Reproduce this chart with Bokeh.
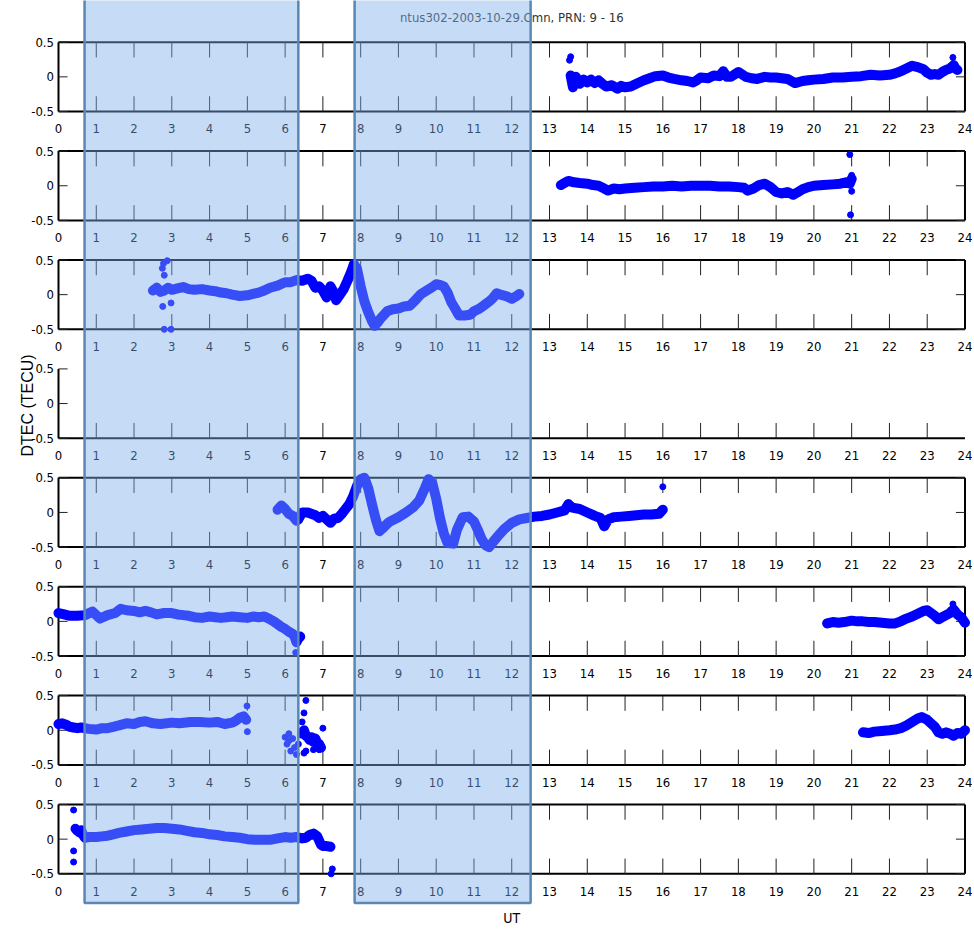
import numpy as np
from bokeh.plotting import figure
from bokeh.models import Range1d
from bokeh.core.properties import value
from bokeh.embed import file_html
from bokeh.resources import INLINE

nan = float("nan")

# ---------------- data ----------------
title_text = "ntus302-2003-10-29.Cmn, PRN: 9 - 16"
y_label = "DTEC (TECU)"
x_label = "UT"
prns = [9, 10, 11, 12, 13, 14, 15, 16]
x_ticks = list(range(0, 25))
y_ticks = [0.5, 0.0, -0.5]
y_tick_labels = ["0.5", "0", "-0.5"]
shade_starts = [0.69, 7.84]
shade_ends = [6.35, 12.5]

prn09_t = [13.56, 13.62, 13.7, 13.8, 13.9, 14.0, 14.1, 14.2, 14.3, 14.4, 14.5, 14.65, 14.8, 14.9, 15.0,
           15.15, 15.3, 15.5, 15.65, 15.8, 16.0, 16.15, 16.3, 16.5, 16.65, 16.8, 16.9, 17.0, 17.2, 17.35,
           17.5, 17.6, 17.7, 17.8, 18.0, 18.2, 18.35, 18.5, 18.7, 18.85, 19.0, 19.15, 19.3, 19.5, 19.7,
           19.85, 20.0, 20.25, 20.5, 20.75, 21.0, 21.25, 21.5, 21.75, 22.0, 22.15, 22.3, 22.45, 22.6, 22.75,
           22.9, 23.0, 23.1, 23.2, 23.3, 23.4, 23.5, 23.6, 23.7, 23.75, 23.8]
prn09_v = [0.02, -0.15, 0.0, -0.1, -0.04, -0.08, -0.04, -0.09, -0.05, -0.1, -0.14, -0.12, -0.17, -0.13, -0.15,
           -0.14, -0.1, -0.05, -0.02, 0.01, 0.02, -0.01, -0.03, -0.05, -0.06, -0.08, -0.05, -0.01, -0.02, 0.02,
           0.01, 0.08, 0.0, 0.0, 0.07, 0.0, -0.02, -0.03, 0.0, -0.01, -0.01, -0.02, -0.03, -0.09, -0.06,
           -0.05, -0.04, -0.03, -0.01, -0.01, 0.0, 0.01, 0.03, 0.02, 0.03, 0.05, 0.08, 0.12, 0.16, 0.14,
           0.11, 0.06, 0.03, 0.04, 0.03, 0.07, 0.1, 0.12, 0.17, 0.12, 0.1]
prn09_out_t = [13.53, 13.56, 23.68]
prn09_out_v = [0.24, 0.29, 0.28]

prn10_t = [13.3, 13.4, 13.5, 13.65, 13.8, 14.0, 14.15, 14.3, 14.45, 14.55, 14.7, 14.85, 15.0, 15.25, 15.5,
           15.75, 16.0, 16.25, 16.5, 16.75, 17.0, 17.25, 17.5, 17.75, 18.0, 18.15, 18.25, 18.4, 18.55, 18.7,
           18.85, 19.0, 19.15, 19.3, 19.45, 19.55, 19.7, 19.85, 20.0, 20.25, 20.5, 20.7, 20.85, 20.95, 21.0]
prn10_v = [0.01, 0.04, 0.07, 0.05, 0.04, 0.03, 0.01, 0.0, -0.04, -0.07, -0.04, -0.05, -0.04, -0.03, -0.02,
           -0.01, -0.01, 0.0, -0.01, 0.0, 0.0, 0.0, -0.01, -0.01, -0.02, -0.03, -0.07, -0.04, 0.01, 0.03,
           -0.02, -0.09, -0.11, -0.09, -0.13, -0.1, -0.05, -0.02, 0.0, 0.01, 0.02, 0.03, 0.05, 0.03, 0.1]
prn10_out_t = [20.95, 20.97, 21.0, 21.0]
prn10_out_v = [0.45, -0.42, 0.15, -0.08]

prn11_t = [2.5, 2.6, 2.7, 2.8, 2.9, 3.0, 3.15, 3.3, 3.45, 3.6, 3.8, 4.0, 4.15, 4.3, 4.45, 4.6, 4.8, 5.0,
           5.15, 5.3, 5.45, 5.6, 5.8, 6.0, 6.15, 6.3, 6.45, 6.6, 6.7, 6.8, 6.9, 7.0, 7.1, 7.2, 7.3, 7.35,
           7.45, 7.55, 7.65, 7.75, 7.82, 7.9, 8.0, 8.1, 8.2, 8.3, 8.37, 8.45, 8.55, 8.7, 8.85, 9.0, 9.15,
           9.3, 9.45, 9.6, 9.75, 9.9, 10.0, 10.1, 10.2, 10.3, 10.4, 10.5, 10.6, 10.75, 10.9, 11.0, 11.15,
           11.3, 11.4, 11.5, 11.6, 11.7, 11.85, 12.0, 12.1, 12.2]
prn11_v = [0.06, 0.1, 0.04, 0.06, 0.1, 0.07, 0.09, 0.11, 0.08, 0.07, 0.08, 0.06, 0.05, 0.03, 0.02, 0.0, -0.02,
           -0.01, 0.01, 0.03, 0.06, 0.1, 0.13, 0.18, 0.18, 0.21, 0.2, 0.23, 0.2, 0.1, 0.12, 0.06, -0.04, 0.12,
           0.02, -0.08, 0.0, 0.08, 0.2, 0.33, 0.44, 0.38, 0.12, -0.1, -0.25, -0.38, -0.45, -0.4, -0.33,
           -0.24, -0.21, -0.2, -0.17, -0.16, -0.08, 0.01, 0.06, 0.11, 0.15, 0.14, 0.12, 0.03, -0.11, -0.2,
           -0.3, -0.3, -0.29, -0.24, -0.2, -0.14, -0.1, -0.05, 0.02, 0.0, -0.02, -0.06, -0.03, 0.01]
prn11_out_t = [2.75, 2.78, 2.8, 2.88, 2.76, 2.8, 2.98, 2.98]
prn11_out_v = [0.38, 0.45, 0.28, 0.49, -0.17, -0.5, -0.5, -0.12]

prn12_t = []
prn12_v = []
prn12_out_t = []
prn12_out_v = []

prn13_t = [5.8, 5.9, 6.0, 6.1, 6.2, 6.3, 6.35, 6.45, 6.6, 6.8, 6.9, 7.0, 7.1, 7.2, 7.3, 7.4, 7.5, 7.6, 7.7,
           7.8, 7.9, 8.0, 8.1, 8.2, 8.3, 8.4, 8.5, 8.6, 8.75, 9.0, 9.2, 9.4, 9.55, 9.7, 9.8, 9.9, 10.0, 10.1,
           10.2, 10.3, 10.45, 10.55, 10.7, 10.85, 11.0, 11.1, 11.2, 11.3, 11.4, 11.5, 11.65, 11.8, 12.0,
           12.2, 12.4, 12.6, 12.8, 13.0, 13.2, 13.4, 13.5, 13.6, 13.8, 14.0, 14.2, 14.35, 14.45, 14.55,
           14.7, 14.9, 15.1, 15.3, 15.5, 15.7, 15.9, 16.0]
prn13_v = [0.04, 0.1, 0.05, -0.02, -0.05, -0.12, -0.1, 0.0, 0.0, -0.04, -0.08, -0.05, -0.1, -0.15, -0.09,
           -0.08, -0.02, 0.05, 0.12, 0.23, 0.38, 0.48, 0.5, 0.35, 0.12, -0.1, -0.27, -0.22, -0.14, -0.07,
           0.0, 0.08, 0.17, 0.35, 0.48, 0.42, 0.2, -0.08, -0.3, -0.44, -0.45, -0.25, -0.07, -0.06, -0.13,
           -0.25, -0.38, -0.47, -0.5, -0.43, -0.33, -0.24, -0.15, -0.1, -0.08, -0.06, -0.05, -0.03, 0.0,
           0.03, 0.12, 0.07, 0.05, 0.0, -0.05, -0.08, -0.2, -0.1, -0.07, -0.06, -0.05, -0.04, -0.03,
           -0.03, -0.02, 0.04]
prn13_out_t = [16.0]
prn13_out_v = [0.37]

prn14_t = [0.0, 0.15, 0.3, 0.5, 0.7, 0.9, 1.1, 1.3, 1.5, 1.65, 1.8, 2.0, 2.15, 2.3, 2.45, 2.6, 2.8, 3.0,
           3.15, 3.3, 3.45, 3.6, 3.8, 4.0, 4.15, 4.3, 4.45, 4.6, 4.8, 5.0, 5.15, 5.3, 5.45, 5.6, 5.7, 5.8,
           5.9, 6.0, 6.1, 6.2, 6.25, 6.3, 6.35, 6.4, nan,
           20.35, 20.5, 20.65, 20.8, 21.0, 21.15, 21.3, 21.45, 21.6, 21.8, 22.0, 22.15, 22.3, 22.45, 22.6,
           22.75, 22.9, 23.0, 23.1, 23.2, 23.3, 23.4, 23.5, 23.6, 23.65, 23.7, 23.8, 23.9, 24.0]
prn14_v = [0.12, 0.1, 0.08, 0.08, 0.09, 0.14, 0.04, 0.09, 0.12, 0.18, 0.16, 0.15, 0.13, 0.15, 0.13, 0.1,
           0.12, 0.12, 0.1, 0.09, 0.08, 0.06, 0.05, 0.07, 0.06, 0.05, 0.06, 0.07, 0.06, 0.05, 0.07, 0.06,
           0.07, 0.03, 0.0, -0.04, -0.08, -0.11, -0.15, -0.18, -0.22, -0.3, -0.25, -0.22, nan,
           -0.03, -0.01, -0.02, -0.01, 0.01, 0.0, 0.0, -0.01, -0.01, -0.02, -0.03, -0.03, 0.0, 0.04, 0.07,
           0.11, 0.15, 0.16, 0.12, 0.08, 0.03, 0.06, 0.09, 0.12, 0.15, 0.17, 0.1, 0.06, -0.02]
prn14_out_t = [6.28, 23.68]
prn14_out_v = [-0.45, 0.25]

prn15_t = [0.0, 0.1, 0.2, 0.3, 0.4, 0.5, 0.6, 0.8, 1.0, 1.15, 1.3, 1.45, 1.6, 1.8, 2.0, 2.15, 2.3, 2.5, 2.7,
           3.0, 3.2, 3.5, 3.75, 4.0, 4.2, 4.4, 4.6, 4.7, 4.8, 4.9, 4.97, nan,
           6.45, 6.5, 6.55, 6.6, 6.65, 6.7, 6.75, 6.8, 6.85, 6.9, 6.95, nan,
           21.3, 21.45, 21.6, 21.8, 22.0, 22.15, 22.3, 22.45, 22.6, 22.75, 22.85, 23.0, 23.1, 23.2, 23.3,
           23.4, 23.5, 23.6, 23.7, 23.8, 23.9, 24.0]
prn15_v = [0.09, 0.1, 0.08, 0.05, 0.04, 0.03, 0.04, 0.02, 0.01, 0.03, 0.03, 0.05, 0.07, 0.1, 0.09, 0.12,
           0.13, 0.1, 0.09, 0.11, 0.1, 0.12, 0.12, 0.11, 0.12, 0.09, 0.11, 0.14, 0.18, 0.2, 0.15, nan,
           -0.05, 0.0, -0.08, -0.1, -0.14, -0.1, -0.17, -0.12, -0.18, -0.2, -0.25, nan,
           -0.03, -0.04, -0.02, -0.01, 0.0, 0.01, 0.03, 0.07, 0.12, 0.17, 0.19, 0.15, 0.1, 0.05, -0.03,
           -0.05, -0.03, -0.05, -0.08, -0.04, -0.05, 0.0]
prn15_out_t = [4.99, 5.0, 6.0, 6.05, 6.1, 6.15, 6.2, 6.25, 6.3, 6.35, 6.1,
               6.5, 6.55, 6.5, 6.55, 6.75, 7.0, 6.9, 6.45]
prn15_out_v = [0.35, -0.02, -0.1, -0.2, -0.15, -0.3, -0.12, -0.25, -0.35, -0.2, -0.05,
               0.25, 0.43, -0.33, -0.3, -0.28, 0.03, -0.28, 0.12]

prn16_t = [0.45, 0.5, 0.55, 0.6, 0.65, 0.7, 0.8, 0.9, 1.0, 1.15, 1.3, 1.45, 1.6, 1.8, 2.0, 2.2, 2.4, 2.6,
           2.8, 3.0, 3.2, 3.4, 3.6, 3.8, 4.0, 4.2, 4.4, 4.6, 4.8, 5.0, 5.2, 5.4, 5.6, 5.8, 6.0, 6.15, 6.3,
           6.45, 6.55, 6.65, 6.75, 6.85, 6.9, 6.95, 7.0, 7.1, 7.2]
prn16_v = [0.15, 0.12, 0.1, 0.13, 0.06, 0.02, 0.03, 0.03, 0.03, 0.04, 0.05, 0.07, 0.09, 0.11, 0.13, 0.14,
           0.15, 0.16, 0.16, 0.15, 0.14, 0.12, 0.1, 0.09, 0.07, 0.06, 0.04, 0.03, 0.02, 0.0, -0.01, -0.01,
           -0.01, 0.01, 0.03, 0.02, 0.03, 0.01, 0.02, 0.06, 0.08, 0.04, -0.02, -0.08, -0.1, -0.1, -0.11]
prn16_out_t = [0.4, 0.4, 0.4, 7.25, 7.22]
prn16_out_v = [0.42, -0.17, -0.33, -0.43, -0.5]

series_t = [prn09_t, prn10_t, prn11_t, prn12_t, prn13_t, prn14_t, prn15_t, prn16_t]
series_v = [prn09_v, prn10_v, prn11_v, prn12_v, prn13_v, prn14_v, prn15_v, prn16_v]
outl_t = [prn09_out_t, prn10_out_t, prn11_out_t, prn12_out_t, prn13_out_t, prn14_out_t, prn15_out_t, prn16_out_t]
outl_v = [prn09_out_v, prn10_out_v, prn11_out_v, prn12_out_v, prn13_out_v, prn14_out_v, prn15_out_v, prn16_out_v]
has_box = [True, True, True, False, True, True, True, True]

# ---------------- layout ----------------
W, H = 972, 927
PX_PER_HOUR = 37.77
PX_PER_UNIT = 69.3
PANEL_PERIOD_PX = 108.9
X0_PX = 58.0            # figure pixel of x=0
C0_PX = 76.35           # figure pixel of first panel centre
STEP = PANEL_PERIOD_PX / PX_PER_UNIT

x_start = -X0_PX / PX_PER_HOUR
x_end = x_start + W / PX_PER_HOUR
y_end = C0_PX / PX_PER_UNIT
y_start = y_end - H / PX_PER_UNIT

p = figure(width=W, height=H, output_backend="svg", toolbar_location=None,
           x_range=Range1d(x_start, x_end), y_range=Range1d(y_start, y_end),
           min_border=0, outline_line_color=None)
p.xaxis.visible = False
p.yaxis.visible = False
p.xgrid.visible = False
p.ygrid.visible = False
p.background_fill_color = "white"

FONT = value("'DejaVu Sans Condensed', 'Liberation Sans', sans-serif")
TICK_LEN = 0.22
YT_LEN = 0.24

frame_x0, frame_y0, frame_x1, frame_y1 = [], [], [], []
tk_x0, tk_y0, tk_x1, tk_y1 = [], [], [], []
xl_x, xl_y, xl_t = [], [], []
yl_x, yl_y, yl_t = [], [], []

for i in range(len(prns)):
    off = -i * STEP
    top, bot = off + 0.5, off - 0.5
    frame_x0.append(0); frame_y0.append(bot); frame_x1.append(24); frame_y1.append(bot)
    frame_x0.append(0); frame_y0.append(bot); frame_x1.append(0); frame_y1.append(top)
    if has_box[i]:
        frame_x0.append(0); frame_y0.append(top); frame_x1.append(24); frame_y1.append(top)
        frame_x0.append(24); frame_y0.append(bot); frame_x1.append(24); frame_y1.append(top)
    for yv in y_ticks:
        tk_x0.append(0); tk_y0.append(off + yv); tk_x1.append(YT_LEN); tk_y1.append(off + yv)
        if has_box[i]:
            tk_x0.append(24 - YT_LEN); tk_y0.append(off + yv); tk_x1.append(24); tk_y1.append(off + yv)
    for xv in x_ticks[1:-1]:
        tk_x0.append(xv); tk_y0.append(bot); tk_x1.append(xv); tk_y1.append(bot + TICK_LEN)
        if has_box[i]:
            tk_x0.append(xv); tk_y0.append(top); tk_x1.append(xv); tk_y1.append(top - TICK_LEN)
    for xv in x_ticks:
        xl_x.append(xv); xl_y.append(bot - 0.25); xl_t.append(str(xv))
    for yv, lab in zip(y_ticks, y_tick_labels):
        yl_x.append(-0.12); yl_y.append(off + yv); yl_t.append(lab)

p.segment(frame_x0, frame_y0, frame_x1, frame_y1, line_color="black", line_width=2)
p.segment(tk_x0, tk_y0, tk_x1, tk_y1, line_color="#222222", line_width=1)

p.text(xl_x, xl_y, text=xl_t, text_align="center", text_baseline="middle",
       text_font=FONT, text_font_size="13px", text_color="black")
p.text(yl_x, yl_y, text=yl_t, text_align="right", text_baseline="middle",
       text_font=FONT, text_font_size="13px", text_color="black")

# data
for i in range(len(prns)):
    off = -i * STEP
    if len(series_t[i]):
        t = np.array(series_t[i], dtype=float)
        v = np.array(series_v[i], dtype=float)
        p.line(t, v + off, line_color="#0000ff", line_width=10, line_join="round", line_cap="round")
    if len(outl_t[i]):
        p.scatter(np.array(outl_t[i]), np.array(outl_v[i]) + off, marker="circle", size=6,
                  fill_color="#0000ff", line_color="#0000ff")

# title and axis labels
p.text([12], [0.5 + 0.355], text=[title_text], text_align="center", text_baseline="middle",
       text_font=FONT, text_font_size="13px", text_color="#333333")
p.text([x_start + 27 / PX_PER_HOUR], [y_end - 405 / PX_PER_UNIT], text=[y_label], angle=np.pi / 2,
       text_align="center", text_baseline="middle", text_font=value("Liberation Sans"),
       text_font_size="16px", text_color="black")
p.text([12], [y_end - 917 / PX_PER_UNIT], text=[x_label], text_align="center",
       text_baseline="middle", text_font=FONT, text_font_size="14px", text_color="black")

# shaded intervals over all panels
shade_bottom = y_end - 902.5 / PX_PER_UNIT
p.quad(left=shade_starts, right=shade_ends, top=[y_end + 1] * len(shade_starts),
       bottom=[shade_bottom] * len(shade_starts), fill_color="#7DAFEA", fill_alpha=0.44,
       line_color="#5B87B5", line_width=2.5)

open("out.html", "w").write(file_html(p, INLINE))
